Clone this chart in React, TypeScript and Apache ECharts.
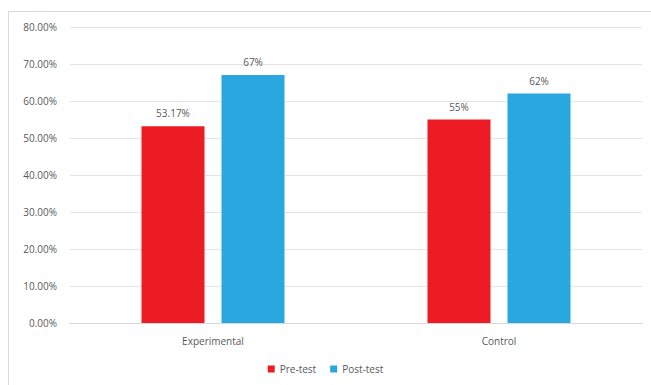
import React, { useEffect, useRef } from "react";
import * as echarts from "echarts";

const categories = ["Experimental", "Control"];
const preTest = [53.17, 55];
const postTest = [67, 62];
const seriesNames = ["Pre-test", "Post-test"];

export default function App() {
  const ref = useRef<HTMLDivElement>(null);
  useEffect(() => {
    const chart = echarts.init(ref.current!, null, { renderer: "svg" });
    const font = "'Open Sans', 'Liberation Sans', sans-serif";
    const textColor = "#595959";
    chart.setOption({
      animation: false,
      backgroundColor: "#ffffff",
      textStyle: { fontFamily: font },
      graphic: [
        {
          type: "rect",
          shape: { x: 8.5, y: 11.5, width: 660, height: 400 },
          style: { fill: "none", stroke: "#d9d9d9", lineWidth: 1 },
          silent: true,
        },
      ],
      grid: { left: 70, right: 9, top: 27, bottom: 62 },
      legend: {
        data: seriesNames,
        bottom: 6,
        left: "center",
        itemWidth: 7,
        itemHeight: 7,
        itemGap: 14,
        icon: "rect",
        textStyle: { color: textColor, fontSize: 10, fontFamily: font },
      },
      xAxis: {
        type: "category",
        data: categories,
        axisLine: { lineStyle: { color: "#d9d9d9" } },
        axisTick: { show: false },
        axisLabel: { color: textColor, fontSize: 10, margin: 13, fontFamily: font },
      },
      yAxis: {
        type: "value",
        min: 0,
        max: 80,
        interval: 10,
        axisLine: { show: false },
        axisTick: { show: false },
        splitLine: { lineStyle: { color: "#e3e3e3" } },
        axisLabel: {
          color: textColor,
          fontSize: 10,
          margin: 13,
          fontFamily: font,
          formatter: (v: number) => `${v.toFixed(2)}%`,
        },
      },
      series: [
        {
          name: seriesNames[0],
          type: "bar",
          data: preTest,
          barWidth: 63,
          barGap: "27%",
          itemStyle: { color: "#ED1C24" },
          label: {
            show: true,
            position: "top",
            distance: 8,
            color: textColor,
            fontSize: 10,
            fontFamily: font,
            formatter: (p: any) => `${p.value}%`,
          },
        },
        {
          name: seriesNames[1],
          type: "bar",
          data: postTest,
          barWidth: 63,
          barGap: "27%",
          itemStyle: { color: "#29A8E0" },
          label: {
            show: true,
            position: "top",
            distance: 8,
            color: textColor,
            fontSize: 10,
            fontFamily: font,
            formatter: (p: any) => `${p.value}%`,
          },
        },
      ],
    });
    return () => chart.dispose();
  }, []);
  return (
    <div
      ref={ref}
      style={{ position: "fixed", left: 0, top: 0, width: 651, height: 385 }}
    />
  );
}
